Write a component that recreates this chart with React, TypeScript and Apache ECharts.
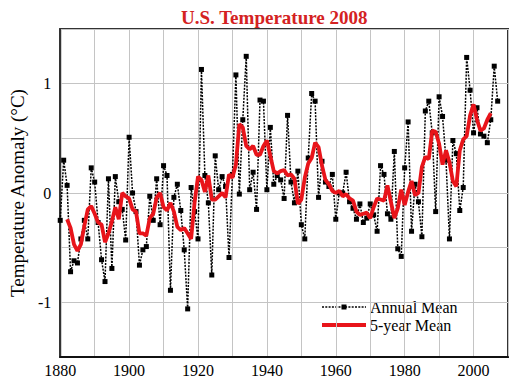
import React, { useEffect, useRef } from "react";
import * as echarts from "echarts";

const START_YEAR = 1880;
const annualMean = [
  -0.25, 0.30, 0.07, -0.72, -0.62, -0.64, -0.42, -0.25, -0.42, 0.23,
  0.10, -0.27, -0.61, -0.81, 0.13, -0.69, 0.15, -0.08, -0.15, -0.43,
  0.51, 0.00, -0.17, -0.66, -0.52, -0.49, -0.03, -0.25, 0.13, -0.29,
  0.25, 0.16, -0.89, -0.04, 0.08, -0.16, -0.52, -1.06, 0.05, -0.17,
  -0.42, 1.13, 0.16, -0.09, -0.75, 0.34, 0.03, 0.15, 0.06, -0.59,
  0.17, 1.08, -0.01, 0.67, 1.25, 0.03, 0.19, -0.15, 0.85, 0.84,
  0.03, 0.60, 0.08, 0.16, 0.12, -0.05, 0.71, 0.10, -0.09, 0.20,
  -0.29, -0.42, 0.32, 0.91, 0.84, -0.04, 0.29, 0.10, 0.06, 0.17,
  -0.24, 0.00, 0.00, 0.19, -0.08, -0.14, -0.24, -0.10, -0.27, -0.23,
  -0.10, -0.20, -0.35, 0.25, 0.17, -0.19, -0.24, 0.38, -0.51, -0.58,
  0.23, 0.65, -0.35, 0.08, -0.08, -0.40, 0.75, 0.84, 0.55, -0.17,
  0.88, 0.70, 0.30, -0.42, 0.48, 0.36, -0.16, 0.05, 1.24, 0.94,
  0.55, 0.78, 0.54, 0.52, 0.46, 0.67, 1.16, 0.84,
];

const FIVE_START_YEAR = 1882;
const fiveYearMean = [
  -0.24, -0.32, -0.47, -0.53, -0.47, -0.30, -0.15, -0.12,
  -0.19, -0.27, -0.29, -0.45, -0.37, -0.26, -0.13, -0.24, 0.00, -0.03,
  -0.05, -0.15, -0.17, -0.37, -0.37, -0.39, -0.23, -0.19, -0.04, 0.00,
  -0.13, -0.16, -0.09, -0.17, -0.31, -0.34, -0.32, -0.37, -0.42, -0.09,
  0.15, 0.12, 0.01, 0.16, -0.06, -0.06, -0.03, 0.00, -0.04, 0.17,
  0.14, 0.26, 0.63, 0.60, 0.43, 0.40, 0.43, 0.35, 0.35, 0.43,
  0.48, 0.34, 0.20, 0.18, 0.20, 0.21, 0.16, 0.17, 0.13, -0.10,
  -0.06, 0.14, 0.27, 0.32, 0.46, 0.42, 0.25, 0.12, 0.08, 0.02,
  0.00, 0.02, -0.03, -0.01, -0.05, -0.07, -0.17, -0.20, -0.19, -0.18,
  -0.23, -0.13, -0.05, -0.06, -0.07, 0.07, -0.08, -0.23, -0.14, 0.03,
  -0.11, 0.01, 0.11, -0.02, 0.00, 0.24, 0.33, 0.31, 0.57, 0.56,
  0.45, 0.26, 0.39, 0.28, 0.11, 0.06, 0.39, 0.49, 0.52, 0.71,
  0.81, 0.67, 0.57, 0.59, 0.67, 0.73,
];

const xTickLabels = ["1880", "1900", "1920", "1940", "1960", "1980", "2000"];
const yTickLabels = ["-1", "0", "1"];
const legendLabels = ["Annual Mean", "5-year Mean"];

const SERIF = "'Liberation Serif', 'DejaVu Serif', serif";
const RED = "#e8141a";

export default function App() {
  const ref = useRef<HTMLDivElement>(null);
  useEffect(() => {
    if (!ref.current) return;
    const chart = echarts.init(ref.current, undefined, { renderer: "svg" });
    const annualData = annualMean.map((v, i) => [START_YEAR + i, v]);
    const fiveData = fiveYearMean.map((v, i) => [FIVE_START_YEAR + i, v]);
    chart.setOption({
      animation: false,
      backgroundColor: "#ffffff",
      title: {
        text: "U.S. Temperature 2008",
        left: 176,
        top: 3,
        textStyle: {
          fontFamily: SERIF,
          fontSize: 19,
          fontWeight: "bold",
          color: "#d42222",
        },
      },
      grid: {
        left: 44,
        right: 1,
        top: 29,
        bottom: 27,
        show: true,
        borderColor: "#333333",
        borderWidth: 2,
      },
      xAxis: {
        type: "value",
        min: 1880,
        max: 2010,
        interval: 10,
        axisLine: { show: true, onZero: false, lineStyle: { color: "#111", width: 2 } },
        axisTick: { show: false },
        splitLine: { show: true, lineStyle: { color: "#c4c4c4", width: 1 } },
        axisLabel: {
          margin: 5,
          fontFamily: SERIF,
          fontSize: 16,
          color: "#000",
          formatter: (v: number) =>
            xTickLabels.includes(String(v)) ? String(v) : "",
        },
      },
      yAxis: {
        type: "value",
        min: -1.5,
        max: 1.5,
        interval: 0.5,
        name: "Temperature Anomaly (°C)",
        nameLocation: "middle",
        nameGap: 24,
        nameTextStyle: { fontFamily: SERIF, fontSize: 19, color: "#000" },
        axisLine: { show: true, onZero: false, lineStyle: { color: "#333", width: 2 } },
        axisTick: { show: false },
        splitLine: { show: true, lineStyle: { color: "#c4c4c4", width: 1 } },
        axisLabel: {
          margin: 9,
          fontFamily: SERIF,
          fontSize: 16,
          color: "#000",
          formatter: (v: number) =>
            yTickLabels.includes(String(v)) ? String(v) : "",
        },
      },
      graphic: [
        {
          type: "group",
          left: 316,
          top: 291,
          z: 100,
          children: [
            { type: "rect", shape: { x: 0, y: 0, width: 152, height: 44 }, style: { fill: "#fff" } },
            {
              type: "line",
              shape: { x1: 6, y1: 16, x2: 50, y2: 16 },
              style: { stroke: "#000", lineWidth: 1.5, lineDash: [2, 1.3] },
            },
            { type: "rect", shape: { x: 25.5, y: 13.5, width: 5, height: 5 }, style: { fill: "#000" } },
            {
              type: "text",
              x: 54,
              y: 16,
              style: {
                text: legendLabels[0],
                fontFamily: SERIF,
                fontSize: 16,
                fill: "#000",
                verticalAlign: "middle",
              },
            },
            {
              type: "line",
              shape: { x1: 6, y1: 34, x2: 50, y2: 34 },
              style: { stroke: RED, lineWidth: 3.8 },
            },
            {
              type: "text",
              x: 54,
              y: 34,
              style: {
                text: legendLabels[1],
                fontFamily: SERIF,
                fontSize: 16,
                fill: "#000",
                verticalAlign: "middle",
              },
            },
          ],
        },
      ],
      series: [
        {
          name: "Annual Mean",
          type: "line",
          data: annualData,
          symbol: "rect",
          symbolSize: 5,
          itemStyle: { color: "#000" },
          lineStyle: { color: "#000", width: 1.5, type: [2, 1.3] },
          z: 2,
        },
        {
          name: "5-year Mean",
          type: "line",
          data: fiveData,
          symbol: "none",
          itemStyle: { color: RED },
          lineStyle: { color: RED, width: 3.8 },
          z: 3,
        },
      ],
    });
    return () => chart.dispose();
  }, []);
  return (
    <div
      ref={ref}
      style={{ position: "absolute", left: 0, top: 0, width: 511, height: 384 }}
    />
  );
}
